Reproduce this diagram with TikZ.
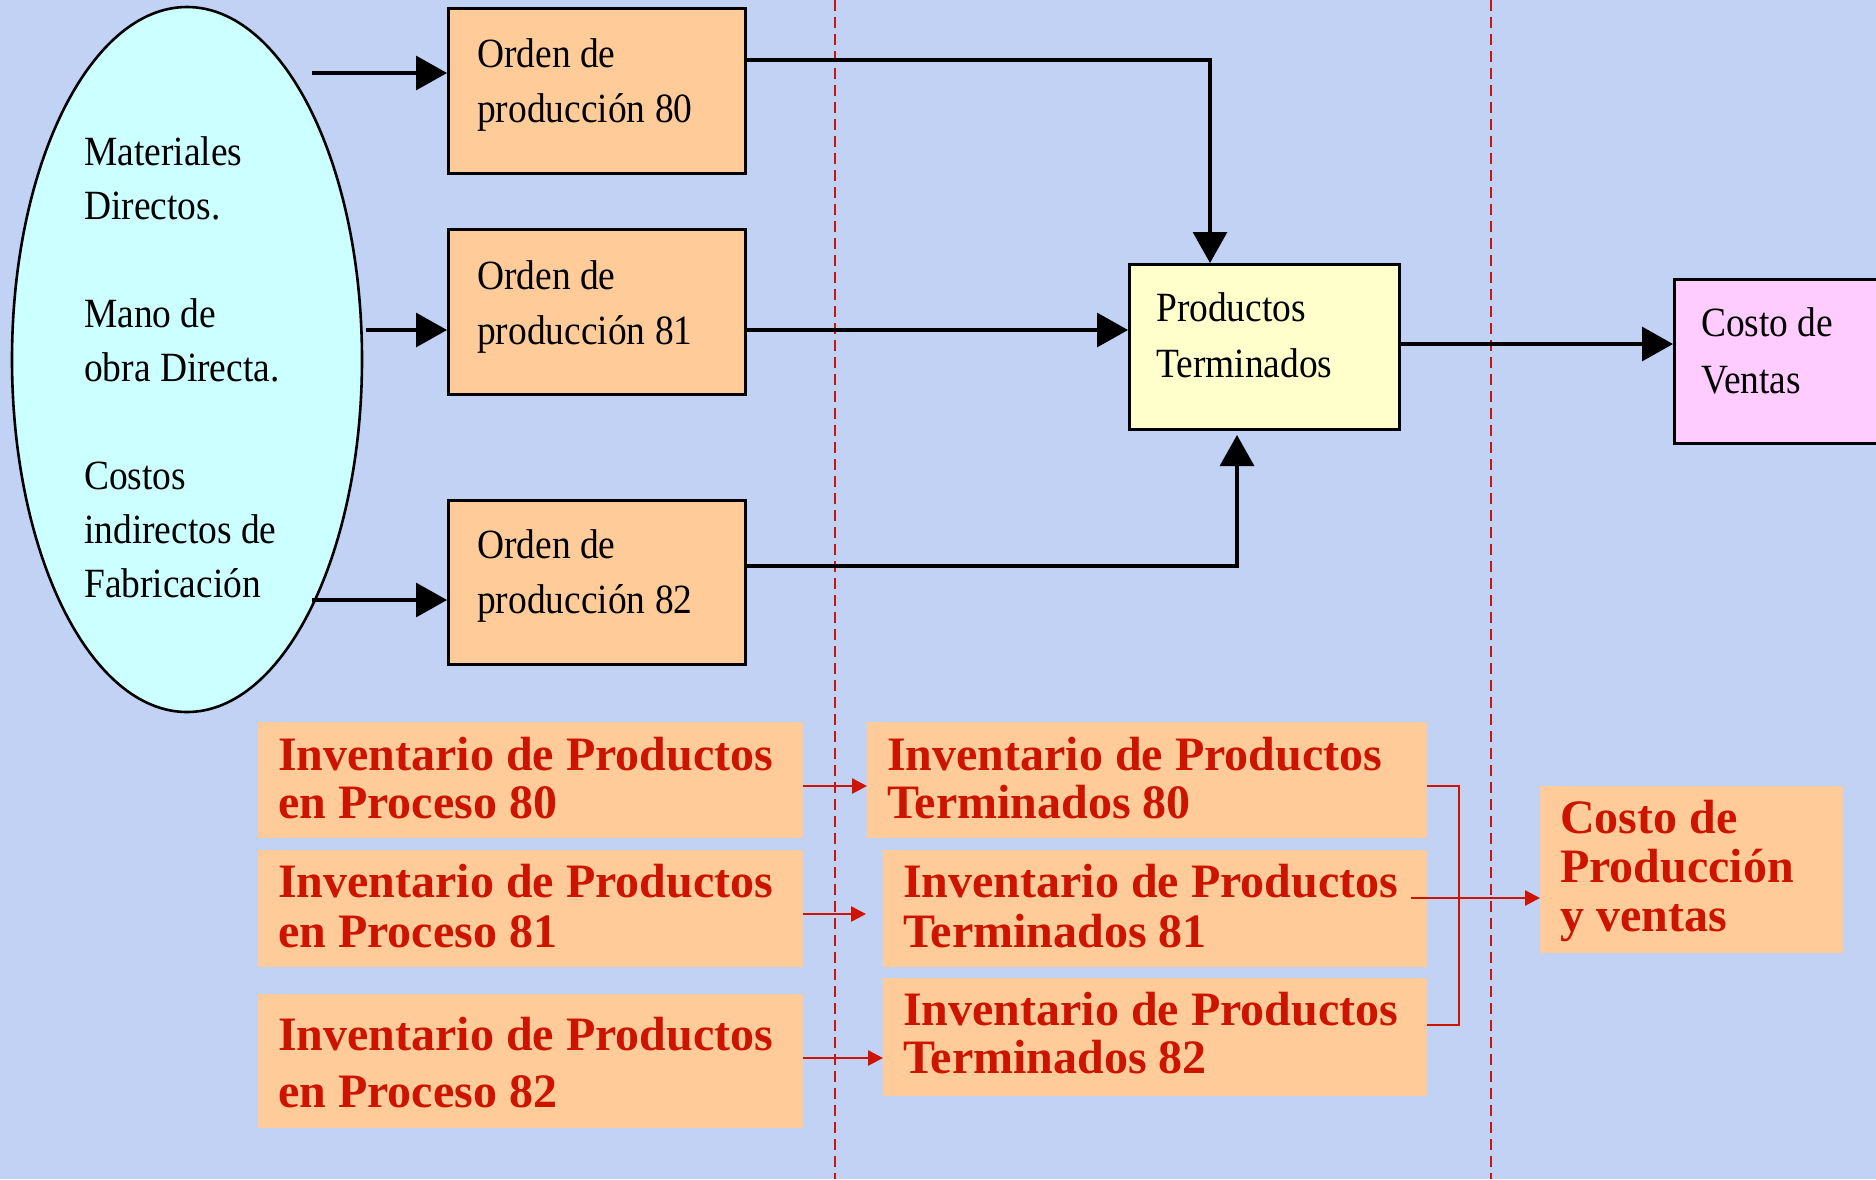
\documentclass[tikz,border=0pt]{standalone}
\usepackage{fontspec}
\setmainfont{Liberation Serif}
\usetikzlibrary{arrows.meta,shapes.geometric}
\definecolor{bgc}{RGB}{194,210,244}
\definecolor{peach}{RGB}{255,204,153}
\definecolor{cyanf}{RGB}{204,255,255}
\definecolor{yelf}{RGB}{255,255,204}
\definecolor{pinkf}{RGB}{255,204,255}
\definecolor{redt}{RGB}{204,20,0}
\definecolor{dashc}{RGB}{200,20,20}
\newcommand\toptxt[2][55]{{\fontsize{41.6}{#1}\selectfont\scalebox{0.9}[1]{\begin{tabular}[t]{@{}l@{}}#2\end{tabular}}}}
\newcommand\bottxt[2][48]{{\fontsize{48}{#1}\selectfont\bfseries\color{redt}\begin{tabular}[t]{@{}l@{}}#2\end{tabular}}}
\tikzset{
  obox/.style={draw=black, line width=3pt, rectangle, inner sep=0pt, anchor=north west},
  pbox/.style={fill=peach, rectangle, inner sep=0pt, anchor=north west},
  txt/.style={anchor=base west, inner sep=0pt},
  blk/.style={line width=3.2pt, draw=black, -{Triangle[length=31pt,width=34pt]}},
  redarr/.style={line width=2.6pt, draw=redt, -{Triangle[length=15pt,width=15pt]}},
  redln/.style={line width=2.6pt, draw=redt},
  dashline/.style={line width=2pt, draw=dashc, dash pattern=on 11pt off 6pt}
}
\begin{document}
\begin{tikzpicture}[x=1pt,y=-1pt]
\clip (0,0) rectangle (1876,1179);
\fill[bgc] (0,0) rectangle (1876,1179);
% dashed separators
\draw[dashline] (835,0) -- (835,1179);
\draw[dashline] (1491,0) -- (1491,1179);
% ellipse
\node[ellipse, draw=black, line width=2.6pt, fill=cyanf, minimum width=350pt, minimum height=705pt, inner sep=0pt] (ell) at (187,359.5) {};
\node[txt] (ellt) at (84,165) {\toptxt[54]{Materiales\\Directos.\\ \\Mano de\\obra Directa.\\ \\Costos\\indirectos de\\Fabricación}};
% order boxes
\node[obox, fill=peach, minimum width=297pt, minimum height=165pt] (o80) at (447,7) {};
\node[obox, fill=peach, minimum width=297pt, minimum height=165pt] (o81) at (447,228) {};
\node[obox, fill=peach, minimum width=297pt, minimum height=164pt] (o82) at (447,499) {};
\node[txt] (o80t) at (477,67) {\toptxt{Orden de\\producción 80}};
\node[txt] (o81t) at (477,289) {\toptxt{Orden de\\producción 81}};
\node[txt] (o82t) at (477,558) {\toptxt{Orden de\\producción 82}};
% productos terminados
\node[obox, fill=yelf, minimum width=270pt, minimum height=165pt] (pt) at (1128,263) {};
\node[txt] (ptt) at (1156,321) {\toptxt[56]{Productos\\Terminados}};
% costo de ventas
\node[obox, fill=pinkf, minimum width=260pt, minimum height=164pt] (cv) at (1673,278) {};
\node[txt] (cvt) at (1701,336) {\toptxt[57]{Costo de\\Ventas}};
% arrows from ellipse
\coordinate (e1) at (312,73);
\coordinate (e2) at (366,330);
\coordinate (e3) at (312,600);
\draw[blk] (e1) -- (e1 -| o80.west);
\draw[blk] (e2) -- (e2 -| o81.west);
\draw[blk] (e3) -- (e3 -| o82.west);
% arrows to productos terminados
\coordinate (k1) at (1210,60);
\coordinate (k2) at (0,330);
\coordinate (k3) at (1237,566);
\coordinate (k4) at (0,344);
\draw[blk] (o80.east |- k1) -- (k1) -- (k1 |- pt.north);
\draw[blk] (o81.east |- k2) -- (pt.west |- k2);
\draw[blk, shorten >=4pt] (o82.east |- k3) -- (k3) -- (k3 |- pt.south);
\draw[blk] (pt.east |- k4) -- (cv.west |- k4);
% bottom boxes
\node[pbox, minimum width=545pt, minimum height=116pt] (ip80) at (258,722) {};
\node[pbox, minimum width=545pt, minimum height=117pt] (ip81) at (258,850) {};
\node[pbox, minimum width=545pt, minimum height=134pt] (ip82) at (258,994) {};
\node[pbox, minimum width=560pt, minimum height=116pt] (tm80) at (867,722) {};
\node[pbox, minimum width=544pt, minimum height=117pt] (tm81) at (883,850) {};
\node[pbox, minimum width=544pt, minimum height=118pt] (tm82) at (883,978) {};
\node[pbox, minimum width=303pt, minimum height=167pt] (cp) at (1540,786) {};
\node[txt] (ip80t) at (278,770) {\bottxt{Inventario de Productos\\en Proceso 80}};
\node[txt] (ip81t) at (278,897) {\bottxt[50]{Inventario de Productos\\en Proceso 81}};
\node[txt] (ip82t) at (278,1050) {\bottxt[57]{Inventario de Productos\\en Proceso 82}};
\node[txt] (tm80t) at (887,770) {\bottxt{Inventario de Productos\\Terminados 80}};
\node[txt] (tm81t) at (903,897) {\bottxt[50]{Inventario de Productos\\Terminados 81}};
\node[txt] (tm82t) at (903,1025) {\bottxt{Inventario de Productos\\Terminados 82}};
\node[txt] (cpt) at (1560,833) {\bottxt[49]{Costo de\\Producción\\y ventas}};
% red arrows
\coordinate (r1) at (0,786);
\coordinate (r2) at (0,914);
\coordinate (r3) at (0,1058);
\draw[redarr] (ip80.east |- r1) -- (tm80.west |- r1);
\draw[redarr, shorten >=17pt] (ip81.east |- r2) -- (tm81.west |- r2);
\draw[redarr] (ip82.east |- r3) -- (tm82.west |- r3);
% bracket
\coordinate (bt) at (1459,786);
\coordinate (bb) at (1459,1025);
\draw[redln] (tm80.east |- bt) -- (bt) -- (bb) -- (tm82.east |- bb);
\coordinate (m0) at (1411,898);
\draw[redarr] (m0) -- (m0 -| cp.west);
\end{tikzpicture}
\end{document}
